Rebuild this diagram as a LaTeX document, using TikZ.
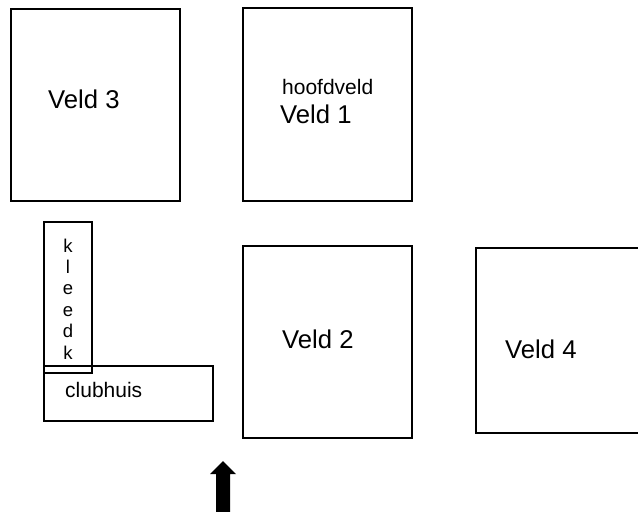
\documentclass[tikz,border=0pt]{standalone}
\usepackage{fontspec}
\setmainfont{Liberation Sans}
\begin{document}
\begin{tikzpicture}[x=1pt,y=-1pt,
  field/.style={draw=black,line width=1.5pt,inner sep=0pt,minimum width=#1},
  big/.style={anchor=base west,inner sep=0pt,font=\fontsize{25.7}{30}\selectfont},
  mid/.style={anchor=base west,inner sep=0pt,font=\fontsize{21}{25}\selectfont},
  small/.style={anchor=base,inner sep=0pt,font=\fontsize{18.5}{21.4}\selectfont}]
\useasboundingbox (0,0) rectangle (638,512);
\begin{scope}
\clip (0,0) rectangle (638,512);
% fields
\node[field=169pt,minimum height=192pt] (v3) at (95.5,105) {};
\node[field=169pt,minimum height=193pt] (v1) at (327.5,104.5) {};
\node[field=169pt,minimum height=192pt] (v2) at (327.5,342) {};
\node[field=170pt,minimum height=185pt] (v4) at (561,340.5) {};
\node[field=169pt,minimum height=55pt] (club) at (128.5,393.5) {};
\node[field=48pt,minimum height=151pt] (kleed) at (68,297.5) {};
\end{scope}
% labels
\node[big] (t3) at (48,108) {Veld 3};
\node[mid] (thoofd) at (282,94) {hoofdveld};
\node[big] (t1) at (280,123) {Veld 1};
\node[big] (t2) at (282,348) {Veld 2};
\node[big] (t4) at (505,358) {Veld 4};
\node[mid] (tclub) at (65,397) {clubhuis};
\node[small] (tk1) at (68,252) {k};
\node[small] (tk2) at (68,273.4) {l};
\node[small] (tk3) at (68,294.8) {e};
\node[small] (tk4) at (68,316.2) {e};
\node[small] (tk5) at (68,337.6) {d};
\node[small] (tk6) at (68,359) {k};
% entrance arrow
\coordinate (tip) at (223,461);
\fill[black] (216,512) -- (216,474) -- (210,474) -- (tip) -- (236,474) -- (230,474) -- (230,512) -- cycle;
\end{tikzpicture}
\end{document}
